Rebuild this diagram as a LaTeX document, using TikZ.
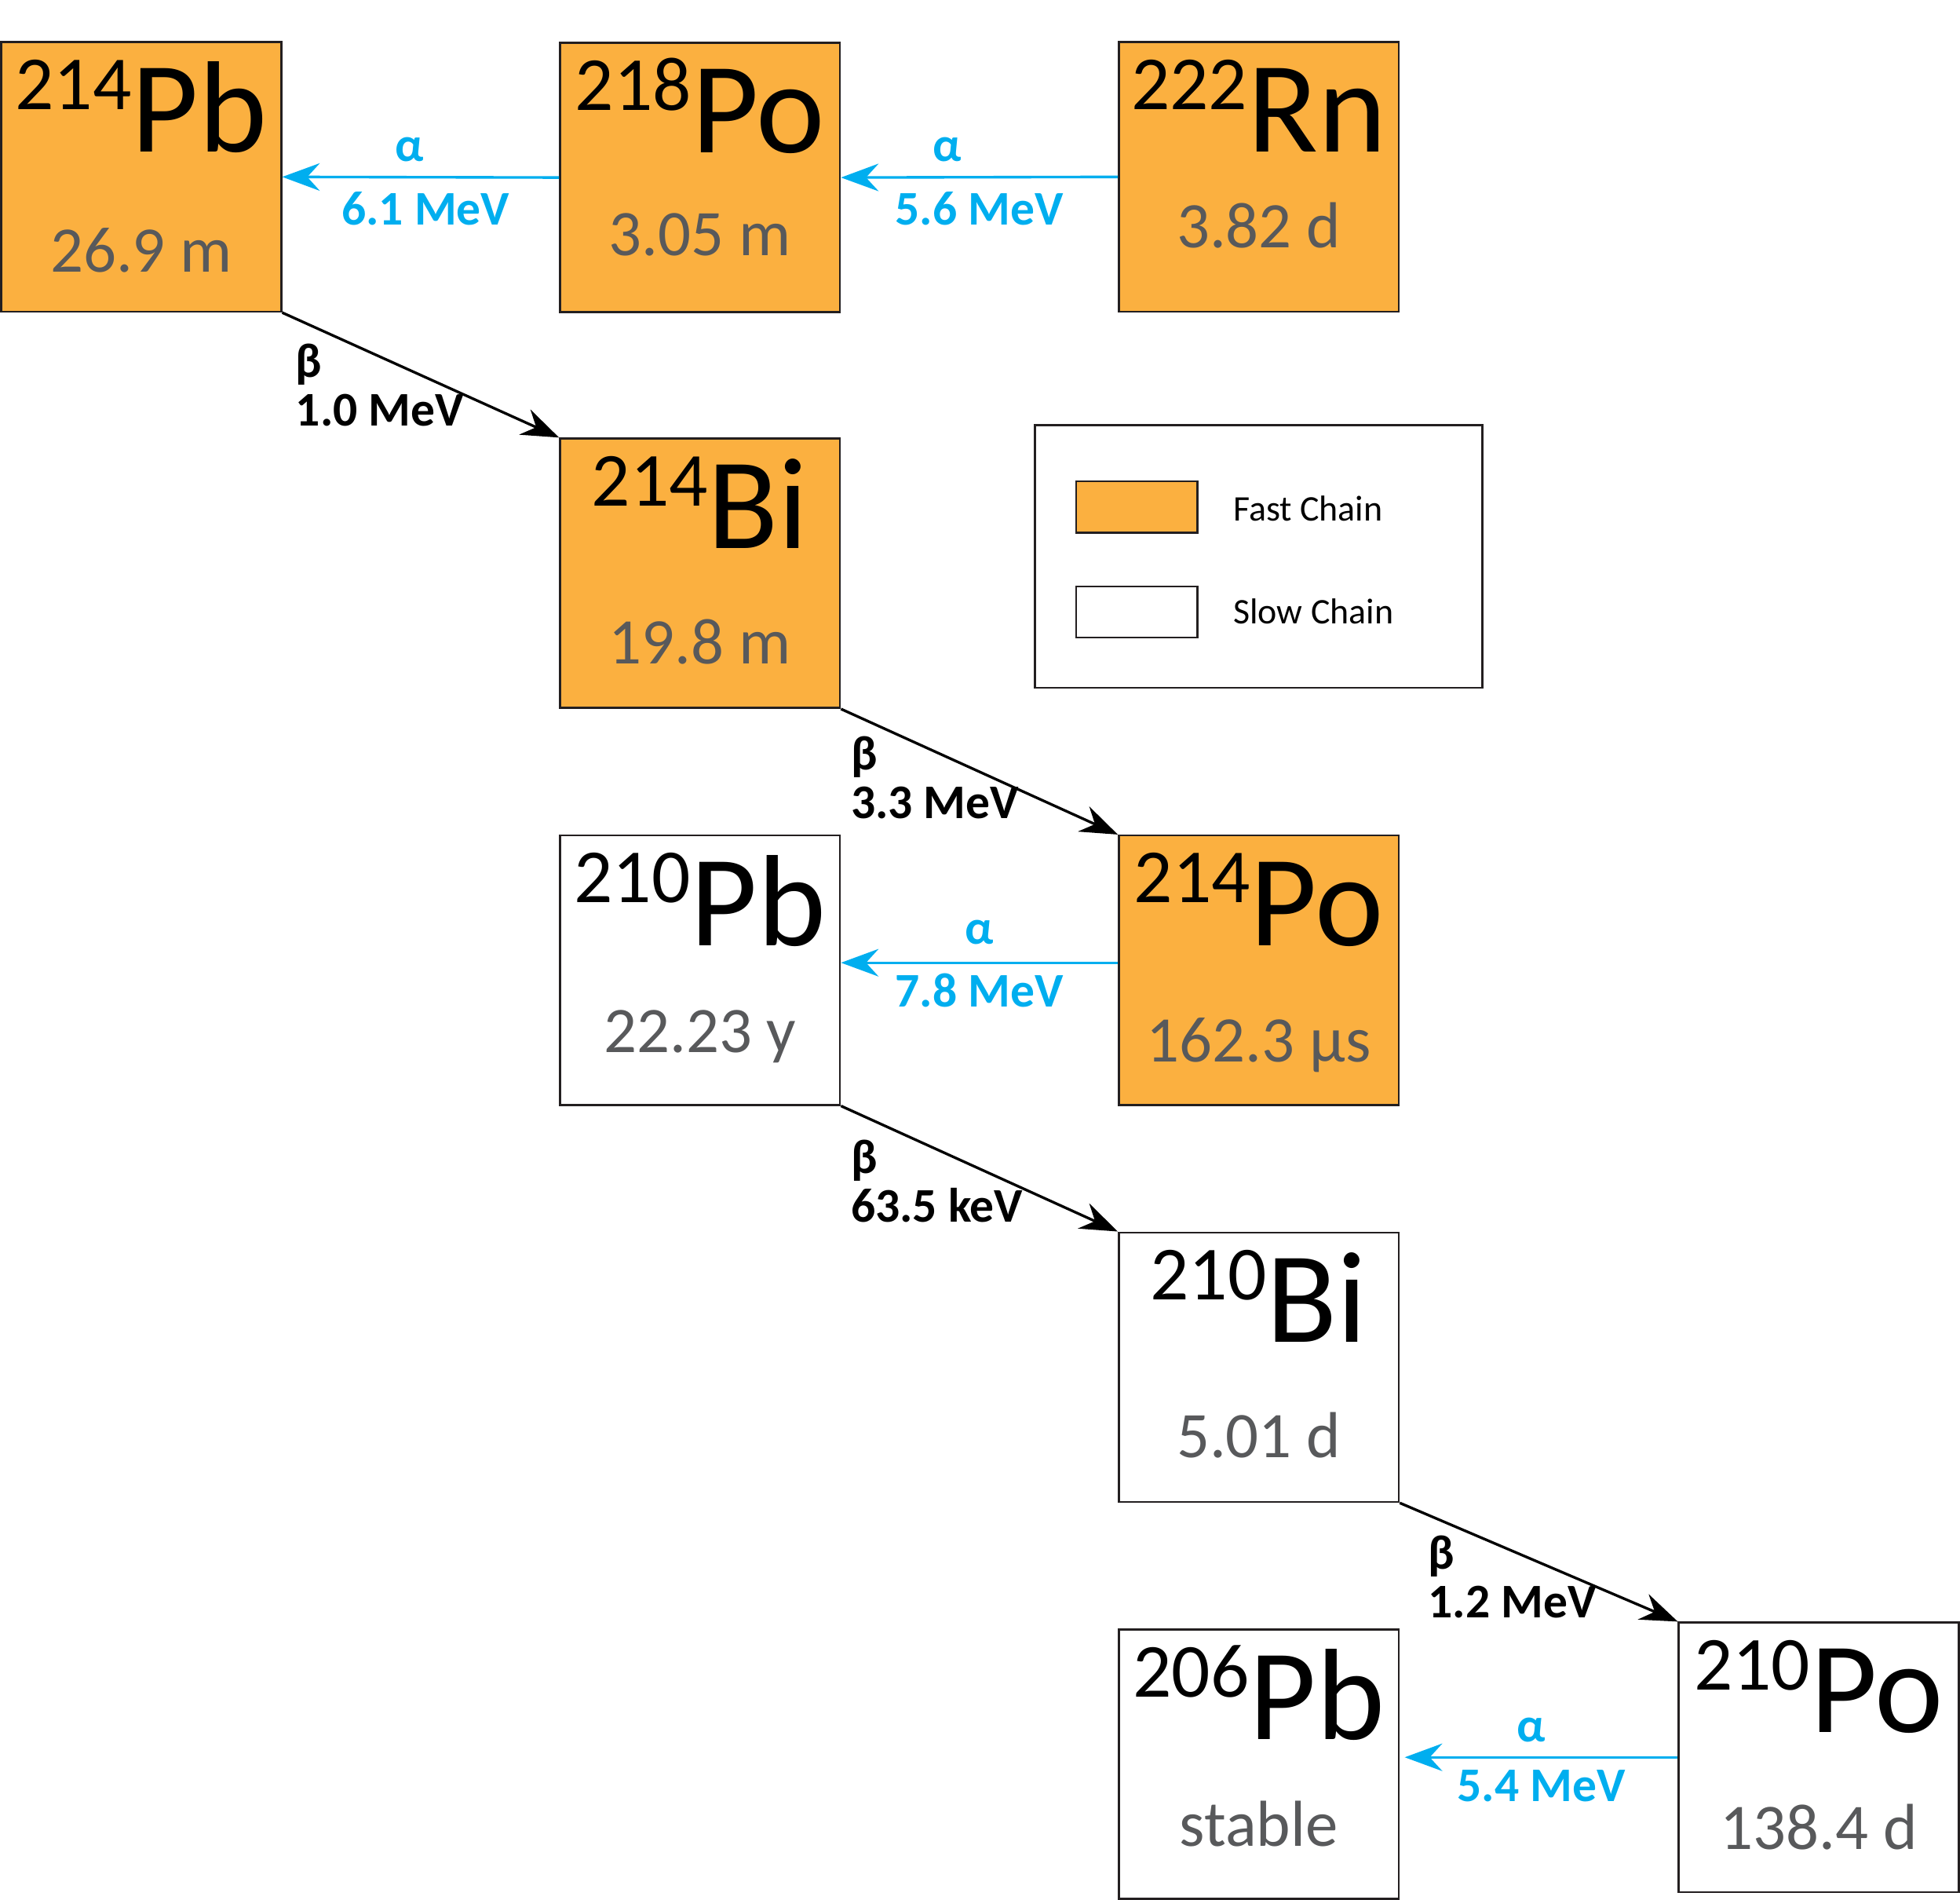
\documentclass[tikz,border=0pt]{standalone}
\usepackage{fontspec}
\setmainfont{Carlito}
\usetikzlibrary{arrows.meta}
\usetikzlibrary{calc}

\definecolor{fastorange}{RGB}{251,176,64}
\definecolor{halfgray}{RGB}{88,89,91}
\definecolor{alphablue}{RGB}{0,174,239}
\definecolor{boxline}{RGB}{35,31,32}

\newcommand{\iso}[2]{\raisebox{0.34cm}{\fontsize{17.4}{18}\selectfont #1}#2}

\tikzset{
  isobox/.style={draw=boxline, line width=0.45pt, minimum width=2.24cm, minimum height=2.155cm, inner sep=0pt},
  fastbox/.style={isobox, fill=fastorange},
  slowbox/.style={isobox, fill=white},
  symtext/.style={font=\fontsize{29.6}{30}\selectfont, inner sep=0pt, anchor=base},
  halftext/.style={font=\fontsize{14.8}{15}\selectfont, text=halfgray, inner sep=0pt, anchor=base},
  alphaarrow/.style={draw=alphablue, line width=0.6pt, -{Stealth[length=0.3cm,width=0.22cm,inset=0.1cm]}},
  betaarrow/.style={draw=black, line width=0.6pt, -{Stealth[length=0.3cm,width=0.22cm,inset=0.1cm]}},
  alphatext/.style={font=\fontsize{11}{12}\selectfont\bfseries, text=alphablue, inner sep=0pt},
  betatext/.style={font=\fontsize{11}{11.1}\selectfont\bfseries, align=left, inner sep=0pt, anchor=west},
  keytext/.style={font=\fontsize{8.2}{9}\selectfont, anchor=west, inner sep=0pt}
}

\begin{document}
\begin{tikzpicture}
    \useasboundingbox (0,0) rectangle (15.68,-15.196);

    %% isotope boxes
    \node[fastbox] (pbA) at (1.13,-1.415) {};
    \node[fastbox] (poA) at (5.60,-1.42) {};
    \node[fastbox] (rn) at (10.07,-1.415) {};
    \node[fastbox] (biA) at (5.60,-4.585) {};
    \node[fastbox] (poB) at (10.07,-7.76) {};
    \node[slowbox] (pbB) at (5.60,-7.76) {};
    \node[slowbox] (biB) at (10.07,-10.935) {};
    \node[slowbox] (pbC) at (10.07,-14.11) {};
    \node[slowbox] (poC) at (14.55,-14.055) {};

    %% symbols
    \node[symtext] (pbAsym) at ($(pbA.north)+(0,-0.886)$) {\iso{214}{Pb}};
    \node[symtext] (poAsym) at ($(poA.north)+(0,-0.886)$) {\iso{218}{Po}};
    \node[symtext] (rnsym) at ($(rn.north)+(0,-0.886)$) {\iso{222}{Rn}};
    \node[symtext] (biAsym) at ($(biA.north)+(0,-0.886)$) {\iso{214}{Bi}};
    \node[symtext] (poBsym) at ($(poB.north)+(0,-0.886)$) {\iso{214}{Po}};
    \node[symtext] (pbBsym) at ($(pbB.north)+(0,-0.886)$) {\iso{210}{Pb}};
    \node[symtext] (biBsym) at ($(biB.north)+(0,-0.886)$) {\iso{210}{Bi}};
    \node[symtext] (pbCsym) at ($(pbC.north)+(0,-0.886)$) {\iso{206}{Pb}};
    \node[symtext] (poCsym) at ($(poC.north)+(0,-0.886)$) {\iso{210}{Po}};

    %% half-lives
    \node[halftext] (pbAhalf) at ($(pbA.north)+(0,-1.847)$) {26.9 m};
    \node[halftext] (poAhalf) at ($(poA.north)+(0,-1.71)$) {3.05 m};
    \node[halftext] (rnhalf) at ($(rn.north)+(0,-1.65)$) {3.82 d};
    \node[halftext] (biAhalf) at ($(biA.north)+(0,-1.81)$) {19.8 m};
    \node[halftext] (poBhalf) at ($(poB.north)+(0,-1.82)$) {162.3 µs};
    \node[halftext] (pbBhalf) at ($(pbB.north)+(0,-1.74)$) {22.23 y};
    \node[halftext] (biBhalf) at ($(biB.north)+(0,-1.81)$) {5.01 d};
    \node[halftext] (pbChalf) at ($(pbC.north)+(0,-1.74)$) {stable};
    \node[halftext] (poChalf) at ($(poC.north)+(0,-1.82)$) {138.4 d};

    %% alpha decays
    \draw[alphaarrow] (poA.west) -- node[alphatext, yshift=0.22cm, xshift=-0.09cm] (aAsym) {α} node[alphatext, yshift=-0.25cm, xshift=0.04cm] (aAval) {6.1 MeV} (pbA.east);
    \draw[alphaarrow] (rn.west) -- node[alphatext, yshift=0.22cm, xshift=-0.26cm] (aBsym) {α} node[alphatext, yshift=-0.25cm] (aBval) {5.6 MeV} (poA.east);
    \draw[alphaarrow] ([yshift=0.06cm]poB.west) -- node[alphatext, yshift=0.24cm] (aCsym) {α} node[alphatext, yshift=-0.22cm] (aCval) {7.8 MeV} ([yshift=0.06cm]pbB.east);
    \draw[alphaarrow] (poC.west) -- node[alphatext, yshift=0.22cm, xshift=-0.08cm] (aDsym) {α} node[alphatext, yshift=-0.23cm] (aDval) {5.4 MeV} ([xshift=0.04cm]poC.west -| pbC.east);

    %% beta decays
    \draw[betaarrow] (pbA.south east) -- (biA.north west);
    \draw[betaarrow] (biA.south east) -- (poB.north west);
    \draw[betaarrow] (pbB.south east) -- (biB.north west);
    \draw[betaarrow] (biB.south east) -- (poC.north west);

    \node[betatext] (bA) at (2.36,-3.08) {β\\1.0 MeV};
    \node[betatext] (bB) at (6.80,-6.22) {β\\3.3 MeV};
    \node[betatext] (bC) at (6.80,-9.45) {β\\63.5 keV};
    \node[betatext] (bD) at (11.42,-12.61) {β\\1.2 MeV};

    %% legend
    \node[draw=boxline, line width=0.45pt, minimum width=3.58cm, minimum height=2.10cm, inner sep=0pt] (legend) at (10.07,-4.45) {};
    \node[draw=boxline, line width=0.45pt, fill=fastorange, minimum width=0.97cm, minimum height=0.41cm, inner sep=0pt] (fastkey) at (9.095,-4.055) {};
    \node[draw=boxline, line width=0.45pt, fill=white, minimum width=0.97cm, minimum height=0.41cm, inner sep=0pt] (slowkey) at (9.095,-4.895) {};
    \node[keytext] (fastlabel) at (9.86,-4.07) {Fast Chain};
    \node[keytext] (slowlabel) at (9.86,-4.89) {Slow Chain};
\end{tikzpicture}
\end{document}
